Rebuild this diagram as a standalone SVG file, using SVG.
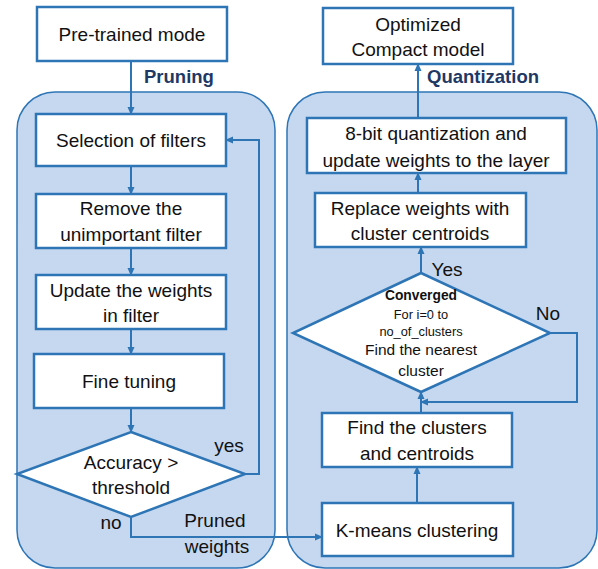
<svg xmlns="http://www.w3.org/2000/svg" width="598" height="569" viewBox="0 0 598 569">
<defs>
<style>
.panel{fill:#C5D8EF;stroke:#2E75B6;stroke-width:1.5}
.box{fill:#fff;stroke:#2E75B6;stroke-width:2.5}
.t{font-family:"Liberation Sans",Arial,sans-serif;font-size:19px;fill:#111;text-anchor:middle;dominant-baseline:central}
.s{font-size:12.8px}
.cv{font-size:13.8px;font-weight:bold}
.m{font-size:15.5px}
.h{font-family:"Liberation Sans",Arial,sans-serif;font-size:18.5px;font-weight:bold;fill:#1F3864}
.c{fill:none;stroke:#2E75B6;stroke-width:2;marker-end:url(#a)}
</style>
<marker id="a" markerWidth="8" markerHeight="8" refX="7" refY="4" orient="auto" markerUnits="userSpaceOnUse">
<path d="M0,0.5 L8,4 L0,7.5 Z" fill="#2E75B6"/>
</marker>
</defs>
<g id="panels">
<rect class="panel" x="17" y="92" width="258" height="476" rx="38"/>
<rect class="panel" x="287" y="92" width="310" height="476" rx="38"/>
</g>
<g id="connectors">
<path class="c" d="M131,61 V114"/>
<path class="c" d="M131,166 V194"/>
<path class="c" d="M131,248 V275"/>
<path class="c" d="M131,329 V354"/>
<path class="c" d="M131,408 V432"/>
<path class="c" d="M245,474 H259 V140 H226"/>
<path class="c" d="M131,517 V537 H322"/>
<path class="c" d="M417,503 V467"/>
<path class="c" d="M421,413 V392"/>
<path class="c" d="M550,333 H577 V402 H421"/>
<path class="c" d="M421,273 V247"/>
<path class="c" d="M418,193 V173"/>
<path class="c" d="M418,118 V64"/>
</g>
<g id="n-pretrained"><rect class="box" x="37" y="7" width="190" height="54"/><text class="t" x="132" y="34">Pre-trained mode</text></g>
<g id="n-pruning-label"><text class="h" x="144" y="83">Pruning</text></g>
<g id="n-selection"><rect class="box" x="36" y="114" width="190" height="52"/><text class="t" x="131" y="140">Selection of filters</text></g>
<g id="n-remove"><rect class="box" x="36" y="194" width="190" height="54"/><text class="t" x="131" y="208">Remove the</text><text class="t" x="131" y="234">unimportant filter</text></g>
<g id="n-update"><rect class="box" x="36" y="275" width="190" height="54"/><text class="t" x="131" y="290">Update the weights</text><text class="t" x="131" y="315">in filter</text></g>
<g id="n-finetune"><rect class="box" x="34" y="354" width="190" height="54"/><text class="t" x="129" y="381">Fine tuning</text></g>
<g id="n-accuracy"><path class="box" d="M131,432 L245,474 L131,517 L17,474 Z"/><text class="t" x="131" y="462">Accuracy &gt;</text><text class="t" x="131" y="487">threshold</text></g>
<g id="labels-left">
<text class="t" x="229" y="445">yes</text>
<text class="t" x="111" y="522">no</text>
<text class="t" x="215" y="520">Pruned</text>
<text class="t" x="217" y="546">weights</text>
</g>
<g id="n-kmeans"><rect class="box" x="322" y="503" width="191" height="53"/><text class="t" x="417" y="530">K-means clustering</text></g>
<g id="n-findclusters"><rect class="box" x="322" y="413" width="190" height="54"/><text class="t" x="417" y="427">Find the clusters</text><text class="t" x="417" y="453">and centroids</text></g>
<g id="n-converged"><path class="box" d="M421,273 L550,333 L421,392 L293,333 Z"/>
<text class="t cv" x="421" y="295">Converged</text>
<text class="t s" x="421" y="314">For i=0 to</text>
<text class="t s" x="421" y="331">no_of_clusters</text>
<text class="t m" x="421" y="349">Find the nearest</text>
<text class="t m" x="421" y="370">cluster</text>
</g>
<g id="labels-right">
<text class="t" x="447" y="269">Yes</text>
<text class="t" x="548" y="313">No</text>
</g>
<g id="n-replace"><rect class="box" x="315" y="193" width="211" height="54"/><text class="t" x="420" y="208">Replace weights with</text><text class="t" x="420" y="233">cluster centroids</text></g>
<g id="n-8bit"><rect class="box" x="307" y="118" width="259" height="55"/><text class="t" x="436" y="133">8-bit quantization and</text><text class="t" x="436" y="160">update weights to the layer</text></g>
<g id="n-optimized"><rect class="box" x="323" y="8" width="190" height="56"/><text class="t" x="418" y="24">Optimized</text><text class="t" x="418" y="49">Compact model</text></g>
<g id="n-quant-label"><text class="h" x="427" y="83">Quantization</text></g>
</svg>
